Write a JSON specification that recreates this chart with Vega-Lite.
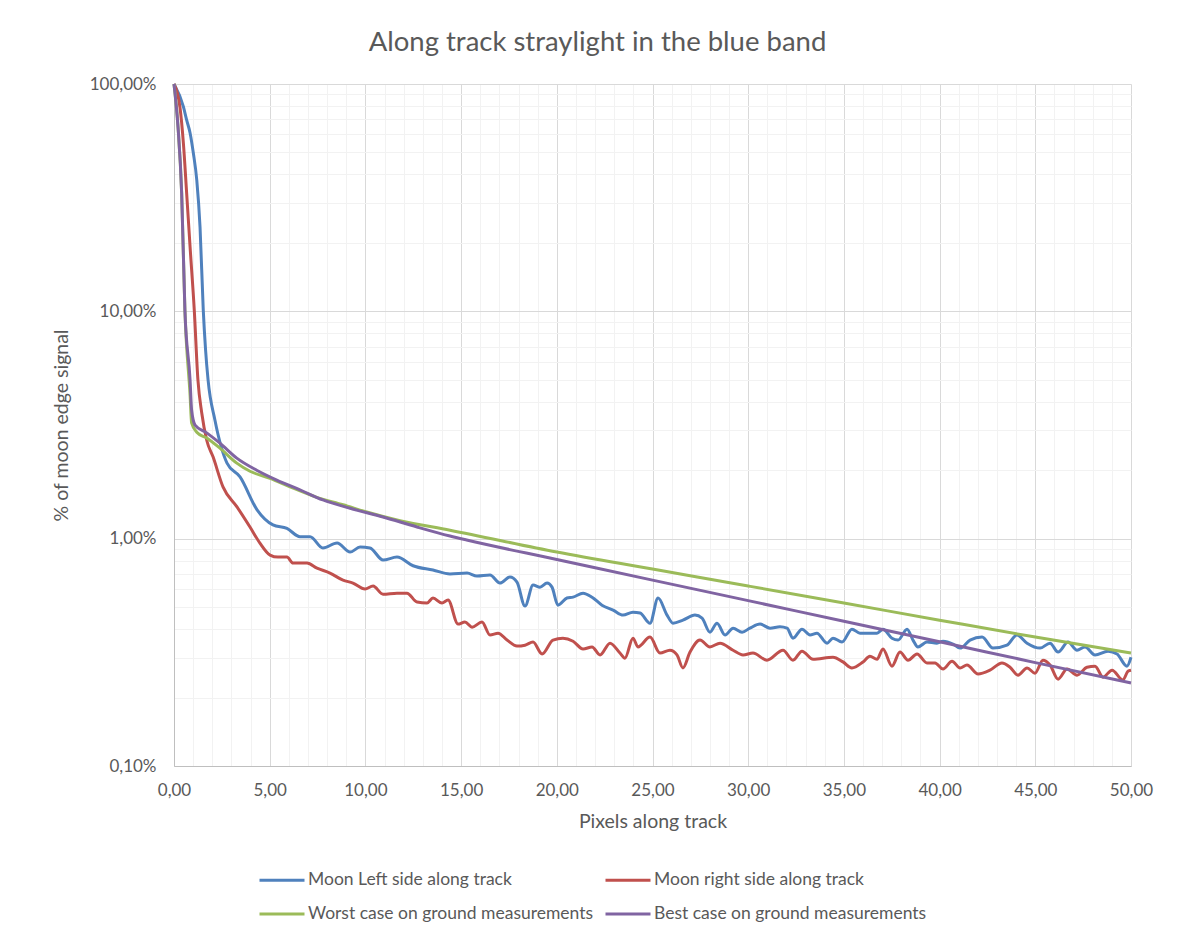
{
  "$schema": "https://vega.github.io/schema/vega-lite/v6.json",
  "autosize": {"type": "none"},
  "width": 957,
  "height": 682,
  "padding": {"left": 174, "top": 84, "right": 59, "bottom": 173},
  "background": "white",
  "config": {
    "locale": {"number": {"decimal": ",", "thousands": ".", "grouping": [3], "currency": ["", " €"]}},
    "font": "Lato",
    "view": {"stroke": null},
    "axis": {"labelColor": "#595959", "titleColor": "#595959", "labelFont": "Lato", "titleFont": "Lato", "labelFontSize": 17, "titleFontSize": 19.5, "titleFontWeight": "normal", "labelFlush": false},
    "legend": {"labelColor": "#595959", "labelFont": "Lato", "labelFontSize": 17.5}
  },
  "title": {"text": "Along track straylight in the blue band", "fontSize": 27.5, "fontWeight": "normal", "color": "#595959", "font": "Lato", "anchor": "middle", "frame": "group", "dx": -55, "offset": 19},
  "data": {"values": [
    {"x":0,"y":1,"series":"Moon Left side along track"},
    {"x":0.49,"y":0.795,"series":"Moon Left side along track"},
    {"x":0.66,"y":0.695,"series":"Moon Left side along track"},
    {"x":0.84,"y":0.609,"series":"Moon Left side along track"},
    {"x":1.01,"y":0.497,"series":"Moon Left side along track"},
    {"x":1.19,"y":0.378,"series":"Moon Left side along track"},
    {"x":1.36,"y":0.235,"series":"Moon Left side along track"},
    {"x":1.53,"y":0.101,"series":"Moon Left side along track"},
    {"x":1.65,"y":0.0676,"series":"Moon Left side along track"},
    {"x":1.78,"y":0.0499,"series":"Moon Left side along track"},
    {"x":2.14,"y":0.0332,"series":"Moon Left side along track"},
    {"x":2.77,"y":0.0215,"series":"Moon Left side along track"},
    {"x":3.45,"y":0.0187,"series":"Moon Left side along track"},
    {"x":4.34,"y":0.0134,"series":"Moon Left side along track"},
    {"x":5.17,"y":0.0115,"series":"Moon Left side along track"},
    {"x":5.9,"y":0.0111,"series":"Moon Left side along track"},
    {"x":6.58,"y":0.0102,"series":"Moon Left side along track"},
    {"x":7.11,"y":0.0102,"series":"Moon Left side along track"},
    {"x":7.78,"y":0.0091,"series":"Moon Left side along track"},
    {"x":8.52,"y":0.00957,"series":"Moon Left side along track"},
    {"x":9.2,"y":0.00873,"series":"Moon Left side along track"},
    {"x":9.72,"y":0.00918,"series":"Moon Left side along track"},
    {"x":10.24,"y":0.0091,"series":"Moon Left side along track"},
    {"x":10.92,"y":0.00805,"series":"Moon Left side along track"},
    {"x":11.65,"y":0.0083,"series":"Moon Left side along track"},
    {"x":12.49,"y":0.0076,"series":"Moon Left side along track"},
    {"x":13.53,"y":0.00728,"series":"Moon Left side along track"},
    {"x":14.42,"y":0.00699,"series":"Moon Left side along track"},
    {"x":15.31,"y":0.00706,"series":"Moon Left side along track"},
    {"x":15.83,"y":0.00685,"series":"Moon Left side along track"},
    {"x":16.51,"y":0.00692,"series":"Moon Left side along track"},
    {"x":17.03,"y":0.00638,"series":"Moon Left side along track"},
    {"x":17.55,"y":0.00678,"series":"Moon Left side along track"},
    {"x":17.92,"y":0.00644,"series":"Moon Left side along track"},
    {"x":18.34,"y":0.00505,"series":"Moon Left side along track"},
    {"x":18.76,"y":0.00625,"series":"Moon Left side along track"},
    {"x":19.12,"y":0.00612,"series":"Moon Left side along track"},
    {"x":19.49,"y":0.00638,"series":"Moon Left side along track"},
    {"x":19.75,"y":0.00612,"series":"Moon Left side along track"},
    {"x":20.06,"y":0.0051,"series":"Moon Left side along track"},
    {"x":20.53,"y":0.00548,"series":"Moon Left side along track"},
    {"x":20.85,"y":0.00553,"series":"Moon Left side along track"},
    {"x":21.37,"y":0.00576,"series":"Moon Left side along track"},
    {"x":21.84,"y":0.00553,"series":"Moon Left side along track"},
    {"x":22.36,"y":0.0051,"series":"Moon Left side along track"},
    {"x":22.94,"y":0.00485,"series":"Moon Left side along track"},
    {"x":23.46,"y":0.00461,"series":"Moon Left side along track"},
    {"x":23.98,"y":0.00475,"series":"Moon Left side along track"},
    {"x":24.35,"y":0.00471,"series":"Moon Left side along track"},
    {"x":24.87,"y":0.00425,"series":"Moon Left side along track"},
    {"x":25.29,"y":0.00548,"series":"Moon Left side along track"},
    {"x":25.76,"y":0.00461,"series":"Moon Left side along track"},
    {"x":26.07,"y":0.00425,"series":"Moon Left side along track"},
    {"x":26.59,"y":0.00438,"series":"Moon Left side along track"},
    {"x":27.22,"y":0.00461,"series":"Moon Left side along track"},
    {"x":27.59,"y":0.00447,"series":"Moon Left side along track"},
    {"x":28,"y":0.00388,"series":"Moon Left side along track"},
    {"x":28.37,"y":0.00425,"series":"Moon Left side along track"},
    {"x":28.79,"y":0.00377,"series":"Moon Left side along track"},
    {"x":29.21,"y":0.00404,"series":"Moon Left side along track"},
    {"x":29.68,"y":0.00388,"series":"Moon Left side along track"},
    {"x":30.09,"y":0.00404,"series":"Moon Left side along track"},
    {"x":30.62,"y":0.00421,"series":"Moon Left side along track"},
    {"x":31.14,"y":0.00404,"series":"Moon Left side along track"},
    {"x":31.66,"y":0.0041,"series":"Moon Left side along track"},
    {"x":32.03,"y":0.00404,"series":"Moon Left side along track"},
    {"x":32.34,"y":0.00365,"series":"Moon Left side along track"},
    {"x":32.81,"y":0.004,"series":"Moon Left side along track"},
    {"x":33.23,"y":0.00377,"series":"Moon Left side along track"},
    {"x":33.59,"y":0.00384,"series":"Moon Left side along track"},
    {"x":34.12,"y":0.00347,"series":"Moon Left side along track"},
    {"x":34.43,"y":0.00365,"series":"Moon Left side along track"},
    {"x":34.9,"y":0.00351,"series":"Moon Left side along track"},
    {"x":35.42,"y":0.004,"series":"Moon Left side along track"},
    {"x":35.84,"y":0.00384,"series":"Moon Left side along track"},
    {"x":36.36,"y":0.00384,"series":"Moon Left side along track"},
    {"x":36.73,"y":0.00384,"series":"Moon Left side along track"},
    {"x":37.04,"y":0.004,"series":"Moon Left side along track"},
    {"x":37.51,"y":0.00365,"series":"Moon Left side along track"},
    {"x":37.83,"y":0.00358,"series":"Moon Left side along track"},
    {"x":38.3,"y":0.004,"series":"Moon Left side along track"},
    {"x":38.61,"y":0.00358,"series":"Moon Left side along track"},
    {"x":38.87,"y":0.00334,"series":"Moon Left side along track"},
    {"x":39.34,"y":0.00351,"series":"Moon Left side along track"},
    {"x":39.86,"y":0.00347,"series":"Moon Left side along track"},
    {"x":40.18,"y":0.00354,"series":"Moon Left side along track"},
    {"x":40.7,"y":0.00344,"series":"Moon Left side along track"},
    {"x":41.07,"y":0.0033,"series":"Moon Left side along track"},
    {"x":41.59,"y":0.00358,"series":"Moon Left side along track"},
    {"x":42.22,"y":0.00369,"series":"Moon Left side along track"},
    {"x":42.79,"y":0.0033,"series":"Moon Left side along track"},
    {"x":43.52,"y":0.0034,"series":"Moon Left side along track"},
    {"x":44.04,"y":0.00377,"series":"Moon Left side along track"},
    {"x":44.57,"y":0.00347,"series":"Moon Left side along track"},
    {"x":45.25,"y":0.0033,"series":"Moon Left side along track"},
    {"x":45.77,"y":0.00347,"series":"Moon Left side along track"},
    {"x":46.19,"y":0.00317,"series":"Moon Left side along track"},
    {"x":46.71,"y":0.00351,"series":"Moon Left side along track"},
    {"x":47.18,"y":0.00323,"series":"Moon Left side along track"},
    {"x":47.6,"y":0.00334,"series":"Moon Left side along track"},
    {"x":48.12,"y":0.00308,"series":"Moon Left side along track"},
    {"x":48.8,"y":0.0032,"series":"Moon Left side along track"},
    {"x":49.27,"y":0.00311,"series":"Moon Left side along track"},
    {"x":49.79,"y":0.00275,"series":"Moon Left side along track"},
    {"x":50,"y":0.00301,"series":"Moon Left side along track"},

    {"x":0,"y":1,"series":"Moon right side along track"},
    {"x":0.31,"y":0.792,"series":"Moon right side along track"},
    {"x":0.49,"y":0.55,"series":"Moon right side along track"},
    {"x":0.66,"y":0.332,"series":"Moon right side along track"},
    {"x":0.84,"y":0.192,"series":"Moon right side along track"},
    {"x":1.06,"y":0.101,"series":"Moon right side along track"},
    {"x":1.25,"y":0.0499,"series":"Moon right side along track"},
    {"x":1.45,"y":0.0357,"series":"Moon right side along track"},
    {"x":1.71,"y":0.0271,"series":"Moon right side along track"},
    {"x":2.04,"y":0.0229,"series":"Moon right side along track"},
    {"x":2.56,"y":0.0169,"series":"Moon right side along track"},
    {"x":3.29,"y":0.0138,"series":"Moon right side along track"},
    {"x":3.97,"y":0.01125,"series":"Moon right side along track"},
    {"x":4.49,"y":0.00956,"series":"Moon right side along track"},
    {"x":5.02,"y":0.00847,"series":"Moon right side along track"},
    {"x":5.43,"y":0.0083,"series":"Moon right side along track"},
    {"x":5.9,"y":0.0083,"series":"Moon right side along track"},
    {"x":6.22,"y":0.00781,"series":"Moon right side along track"},
    {"x":6.95,"y":0.00781,"series":"Moon right side along track"},
    {"x":7.47,"y":0.00742,"series":"Moon right side along track"},
    {"x":8.15,"y":0.00706,"series":"Moon right side along track"},
    {"x":8.83,"y":0.00657,"series":"Moon right side along track"},
    {"x":9.35,"y":0.00638,"series":"Moon right side along track"},
    {"x":9.98,"y":0.006,"series":"Moon right side along track"},
    {"x":10.4,"y":0.00619,"series":"Moon right side along track"},
    {"x":10.92,"y":0.0057,"series":"Moon right side along track"},
    {"x":11.65,"y":0.00576,"series":"Moon right side along track"},
    {"x":12.17,"y":0.00576,"series":"Moon right side along track"},
    {"x":12.7,"y":0.00526,"series":"Moon right side along track"},
    {"x":13.22,"y":0.00521,"series":"Moon right side along track"},
    {"x":13.53,"y":0.00548,"series":"Moon right side along track"},
    {"x":14,"y":0.00521,"series":"Moon right side along track"},
    {"x":14.32,"y":0.00537,"series":"Moon right side along track"},
    {"x":14.84,"y":0.00421,"series":"Moon right side along track"},
    {"x":15.2,"y":0.0043,"series":"Moon right side along track"},
    {"x":15.57,"y":0.00408,"series":"Moon right side along track"},
    {"x":16.09,"y":0.0043,"series":"Moon right side along track"},
    {"x":16.51,"y":0.00377,"series":"Moon right side along track"},
    {"x":16.93,"y":0.00384,"series":"Moon right side along track"},
    {"x":17.4,"y":0.00358,"series":"Moon right side along track"},
    {"x":17.92,"y":0.00337,"series":"Moon right side along track"},
    {"x":18.34,"y":0.0034,"series":"Moon right side along track"},
    {"x":18.76,"y":0.00351,"series":"Moon right side along track"},
    {"x":19.23,"y":0.00311,"series":"Moon right side along track"},
    {"x":19.8,"y":0.00358,"series":"Moon right side along track"},
    {"x":20.32,"y":0.00365,"series":"Moon right side along track"},
    {"x":20.85,"y":0.00354,"series":"Moon right side along track"},
    {"x":21.37,"y":0.00327,"series":"Moon right side along track"},
    {"x":21.84,"y":0.00334,"series":"Moon right side along track"},
    {"x":22.26,"y":0.00308,"series":"Moon right side along track"},
    {"x":22.78,"y":0.00347,"series":"Moon right side along track"},
    {"x":23.3,"y":0.00314,"series":"Moon right side along track"},
    {"x":23.56,"y":0.00298,"series":"Moon right side along track"},
    {"x":23.98,"y":0.00365,"series":"Moon right side along track"},
    {"x":24.24,"y":0.00334,"series":"Moon right side along track"},
    {"x":24.87,"y":0.00369,"series":"Moon right side along track"},
    {"x":25.39,"y":0.00314,"series":"Moon right side along track"},
    {"x":25.91,"y":0.00323,"series":"Moon right side along track"},
    {"x":26.28,"y":0.00308,"series":"Moon right side along track"},
    {"x":26.59,"y":0.0027,"series":"Moon right side along track"},
    {"x":26.96,"y":0.00317,"series":"Moon right side along track"},
    {"x":27.48,"y":0.00358,"series":"Moon right side along track"},
    {"x":28,"y":0.00334,"series":"Moon right side along track"},
    {"x":28.53,"y":0.00347,"series":"Moon right side along track"},
    {"x":29.21,"y":0.00323,"series":"Moon right side along track"},
    {"x":29.73,"y":0.00308,"series":"Moon right side along track"},
    {"x":30.25,"y":0.00314,"series":"Moon right side along track"},
    {"x":30.98,"y":0.00292,"series":"Moon right side along track"},
    {"x":31.82,"y":0.00323,"series":"Moon right side along track"},
    {"x":32.34,"y":0.00292,"series":"Moon right side along track"},
    {"x":32.81,"y":0.0032,"series":"Moon right side along track"},
    {"x":33.39,"y":0.00295,"series":"Moon right side along track"},
    {"x":34.43,"y":0.00301,"series":"Moon right side along track"},
    {"x":34.95,"y":0.00287,"series":"Moon right side along track"},
    {"x":35.42,"y":0.0027,"series":"Moon right side along track"},
    {"x":36,"y":0.00287,"series":"Moon right side along track"},
    {"x":36.36,"y":0.00304,"series":"Moon right side along track"},
    {"x":36.73,"y":0.00295,"series":"Moon right side along track"},
    {"x":37.04,"y":0.00327,"series":"Moon right side along track"},
    {"x":37.51,"y":0.00275,"series":"Moon right side along track"},
    {"x":37.93,"y":0.00317,"series":"Moon right side along track"},
    {"x":38.35,"y":0.00292,"series":"Moon right side along track"},
    {"x":38.82,"y":0.00311,"series":"Moon right side along track"},
    {"x":39.34,"y":0.00284,"series":"Moon right side along track"},
    {"x":39.76,"y":0.00284,"series":"Moon right side along track"},
    {"x":40.18,"y":0.00267,"series":"Moon right side along track"},
    {"x":40.65,"y":0.00289,"series":"Moon right side along track"},
    {"x":41.07,"y":0.0027,"series":"Moon right side along track"},
    {"x":41.43,"y":0.00278,"series":"Moon right side along track"},
    {"x":42.01,"y":0.00254,"series":"Moon right side along track"},
    {"x":42.63,"y":0.00264,"series":"Moon right side along track"},
    {"x":43.26,"y":0.00284,"series":"Moon right side along track"},
    {"x":43.68,"y":0.00272,"series":"Moon right side along track"},
    {"x":44.1,"y":0.00251,"series":"Moon right side along track"},
    {"x":44.57,"y":0.0027,"series":"Moon right side along track"},
    {"x":44.98,"y":0.00256,"series":"Moon right side along track"},
    {"x":45.4,"y":0.00292,"series":"Moon right side along track"},
    {"x":45.77,"y":0.00278,"series":"Moon right side along track"},
    {"x":46.19,"y":0.00241,"series":"Moon right side along track"},
    {"x":46.66,"y":0.00267,"series":"Moon right side along track"},
    {"x":47.18,"y":0.00251,"series":"Moon right side along track"},
    {"x":47.7,"y":0.00272,"series":"Moon right side along track"},
    {"x":48.12,"y":0.00275,"series":"Moon right side along track"},
    {"x":48.54,"y":0.00246,"series":"Moon right side along track"},
    {"x":49.01,"y":0.00264,"series":"Moon right side along track"},
    {"x":49.58,"y":0.00239,"series":"Moon right side along track"},
    {"x":49.84,"y":0.00261,"series":"Moon right side along track"},
    {"x":50,"y":0.00264,"series":"Moon right side along track"},

    {"x":0,"y":1,"series":"Worst case on ground measurements"},
    {"x":0.21,"y":0.647,"series":"Worst case on ground measurements"},
    {"x":0.4,"y":0.332,"series":"Worst case on ground measurements"},
    {"x":0.57,"y":0.101,"series":"Worst case on ground measurements"},
    {"x":0.84,"y":0.0428,"series":"Worst case on ground measurements"},
    {"x":0.92,"y":0.0323,"series":"Worst case on ground measurements"},
    {"x":1.19,"y":0.0294,"series":"Worst case on ground measurements"},
    {"x":1.71,"y":0.0277,"series":"Worst case on ground measurements"},
    {"x":2.4,"y":0.025,"series":"Worst case on ground measurements"},
    {"x":3.28,"y":0.0215,"series":"Worst case on ground measurements"},
    {"x":3.97,"y":0.0198,"series":"Worst case on ground measurements"},
    {"x":5.02,"y":0.0184,"series":"Worst case on ground measurements"},
    {"x":6.06,"y":0.0169,"series":"Worst case on ground measurements"},
    {"x":7.46,"y":0.0152,"series":"Worst case on ground measurements"},
    {"x":8.83,"y":0.0141,"series":"Worst case on ground measurements"},
    {"x":10.07,"y":0.0131,"series":"Worst case on ground measurements"},
    {"x":11.81,"y":0.01199,"series":"Worst case on ground measurements"},
    {"x":14.42,"y":0.0109,"series":"Worst case on ground measurements"},
    {"x":20,"y":0.00873,"series":"Worst case on ground measurements"},
    {"x":25,"y":0.00735,"series":"Worst case on ground measurements"},
    {"x":30,"y":0.00619,"series":"Worst case on ground measurements"},
    {"x":35,"y":0.00521,"series":"Worst case on ground measurements"},
    {"x":40,"y":0.00438,"series":"Worst case on ground measurements"},
    {"x":45,"y":0.00369,"series":"Worst case on ground measurements"},
    {"x":50,"y":0.00314,"series":"Worst case on ground measurements"},

    {"x":0,"y":1,"series":"Best case on ground measurements"},
    {"x":0.21,"y":0.647,"series":"Best case on ground measurements"},
    {"x":0.4,"y":0.332,"series":"Best case on ground measurements"},
    {"x":0.57,"y":0.1013,"series":"Best case on ground measurements"},
    {"x":0.84,"y":0.0499,"series":"Best case on ground measurements"},
    {"x":0.92,"y":0.0368,"series":"Best case on ground measurements"},
    {"x":1.1,"y":0.0316,"series":"Best case on ground measurements"},
    {"x":1.71,"y":0.0292,"series":"Best case on ground measurements"},
    {"x":2.4,"y":0.0263,"series":"Best case on ground measurements"},
    {"x":3.28,"y":0.0226,"series":"Best case on ground measurements"},
    {"x":4.32,"y":0.02,"series":"Best case on ground measurements"},
    {"x":5.37,"y":0.0181,"series":"Best case on ground measurements"},
    {"x":6.58,"y":0.0164,"series":"Best case on ground measurements"},
    {"x":7.78,"y":0.0148,"series":"Best case on ground measurements"},
    {"x":9.2,"y":0.0136,"series":"Best case on ground measurements"},
    {"x":10.92,"y":0.01245,"series":"Best case on ground measurements"},
    {"x":12.7,"y":0.01125,"series":"Best case on ground measurements"},
    {"x":14.42,"y":0.01027,"series":"Best case on ground measurements"},
    {"x":15.29,"y":0.00986,"series":"Best case on ground measurements"},
    {"x":20,"y":0.0081,"series":"Best case on ground measurements"},
    {"x":25,"y":0.00657,"series":"Best case on ground measurements"},
    {"x":30,"y":0.00534,"series":"Best case on ground measurements"},
    {"x":35,"y":0.00433,"series":"Best case on ground measurements"},
    {"x":40,"y":0.00352,"series":"Best case on ground measurements"},
    {"x":45,"y":0.00285,"series":"Best case on ground measurements"},
    {"x":50,"y":0.00232,"series":"Best case on ground measurements"}
  ]},
  "encoding": {
    "x": {"field": "x", "type": "quantitative", "scale": {"domain": [0, 50], "nice": false, "zero": false}},
    "y": {"field": "y", "type": "quantitative", "scale": {"type": "log", "domain": [0.001, 1], "nice": false}},
    "color": {
      "field": "series", "type": "nominal",
      "scale": {
        "domain": ["Moon Left side along track", "Moon right side along track", "Worst case on ground measurements", "Best case on ground measurements"],
        "range": ["#4F81BD", "#C0504D", "#9BBB59", "#8064A2"]
      },
      "legend": {
        "title": null, "orient": "none", "legendX": 84, "legendY": 772, "columns": 2, "direction": "horizontal",
        "symbolType": "stroke", "symbolStrokeWidth": 3, "symbolSize": 2025,
        "labelOffset": 2, "labelLimit": 500, "columnPadding": 5, "rowPadding": 1, "labelFontSize": 17.5
      }
    }
  },
  "layer": [
    {
      "transform": [{"filter": "datum.series === 'Moon Left side along track' || datum.series === 'Moon right side along track'"}],
      "mark": {"type": "line", "interpolate": "monotone", "strokeWidth": 3},
      "encoding": {
        "x": {"field": "x", "type": "quantitative", "axis": {"orient": "top", "values": [1,2,3,4,6,7,8,9,11,12,13,14,16,17,18,19,21,22,23,24,26,27,28,29,31,32,33,34,36,37,38,39,41,42,43,44,46,47,48,49], "grid": true, "gridColor": "#F2F2F2", "labels": false, "ticks": false, "domain": false, "title": null}},
        "y": {"field": "y", "type": "quantitative", "axis": {"orient": "right", "values": [0.002,0.003,0.004,0.005,0.006,0.007,0.008,0.009,0.02,0.03,0.04,0.05,0.06,0.07,0.08,0.09,0.2,0.3,0.4,0.5,0.6,0.7,0.8,0.9], "grid": true, "gridColor": "#F2F2F2", "labels": false, "ticks": false, "domain": false, "title": null}}
      }
    },
    {
      "transform": [{"filter": "datum.series === 'Worst case on ground measurements' || datum.series === 'Best case on ground measurements'"}],
      "mark": {"type": "line", "interpolate": "monotone", "strokeWidth": 3},
      "encoding": {
        "x": {"field": "x", "type": "quantitative", "axis": {"orient": "bottom", "values": [0,5,10,15,20,25,30,35,40,45,50], "format": ".2f", "grid": true, "gridColor": "#D9D9D9", "ticks": false, "domainColor": "#BFBFBF", "labelPadding": 16, "title": "Pixels along track", "titlePadding": 14}},
        "y": {"field": "y", "type": "quantitative", "axis": {"orient": "left", "values": [0.001, 0.01, 0.1, 1], "format": ".2%", "grid": true, "gridColor": "#D9D9D9", "ticks": false, "domainColor": "#BFBFBF", "labelPadding": 18, "title": "% of moon edge signal", "titlePadding": 18}}
      }
    }
  ],
  "resolve": {"axis": {"x": "independent", "y": "independent"}}
}
